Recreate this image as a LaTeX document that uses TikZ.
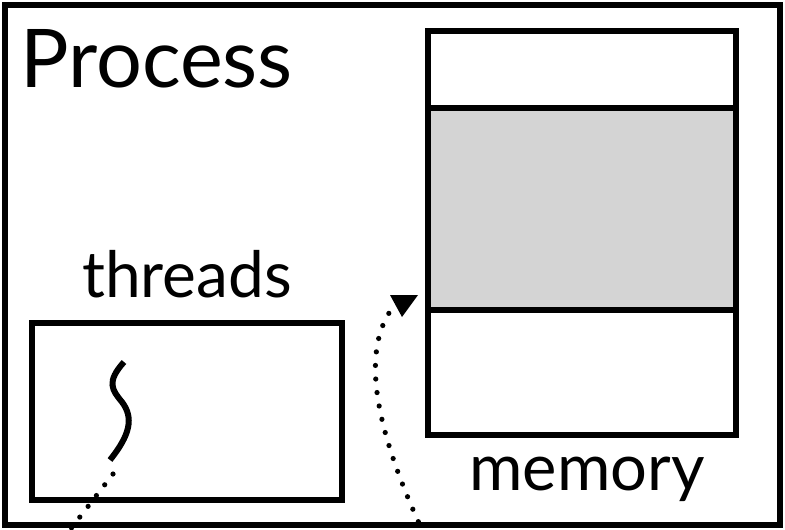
\documentclass[tikz,border=0pt]{standalone}
\usepackage{fontspec}
\setmainfont{Lato}
\usepackage{xcolor}
\usetikzlibrary{arrows.meta}
\definecolor{segment}{HTML}{D4D4D4}

\begin{document}
\begin{tikzpicture}[x=0.5pt, y=-0.5pt,
  frame/.style={draw=black, line width=2.8pt},
  box/.style={draw=black, line width=3pt},
  label/.style={inner sep=0pt, anchor=base},
  trace/.style={black, line width=2.6pt, line cap=round, dash pattern=on 0pt off 6.8pt}]

  \useasboundingbox (0,0) rectangle (785,529);

  % --- Process frame ---
  \draw[frame] (5,5) rectangle (780,525);
  \node[label, anchor=base west, font=\fontsize{40.5}{42}\selectfont] (process) at (20,88) {Process};

  % --- Memory with its segments ---
  \coordinate (memtop) at (428,31);
  \coordinate (membot) at (736,435);
  \fill[segment] (428,108) rectangle (736,310);
  \draw[box] (memtop) rectangle (membot);
  \draw[box] (428,108) -- (736,108);
  \draw[box] (428,310) -- (736,310);
  \node[label, font=\fontsize{32.5}{34}\selectfont] (memory) at (587,490) {memory};

  % --- Threads ---
  \draw[box] (32,323) rectangle (342,500);
  \node[label, font=\fontsize{32}{34}\selectfont] (threads) at (187,297) {threads};
  \coordinate (thtop) at (124,362);
  \coordinate (thbot) at (110,460);
  \draw[line width=3pt] (thtop) .. controls (106,382) and (112,390) .. (122,402)
    .. controls (134,418) and (130,435) .. (thbot);

  % --- Dotted traces ---
  \draw[trace] (113,474) -- (66,535);
  \coordinate (arrowtip) at (402,317);
  \draw[trace] (424,534) .. controls (380,440) and (360,360) .. (389,313);
  \fill[black] (390,295) -- (418,295) -- (arrowtip) -- cycle;

\end{tikzpicture}
\end{document}
